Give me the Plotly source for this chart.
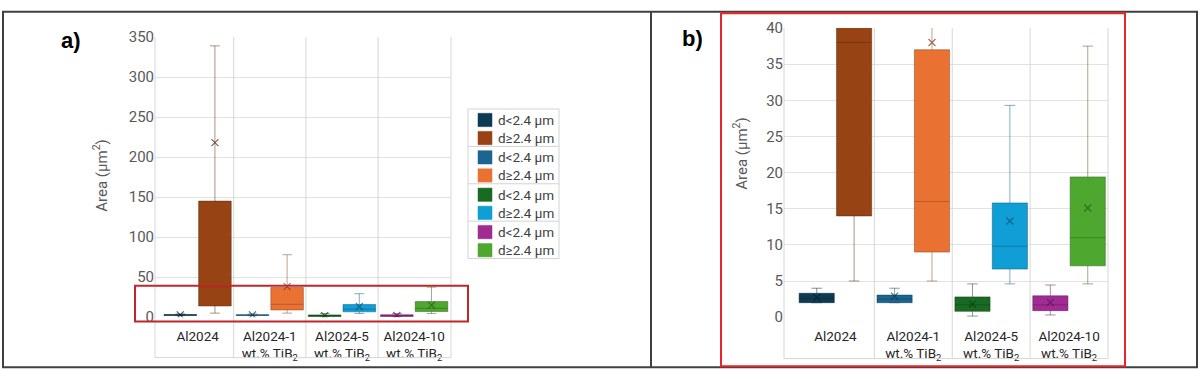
import plotly.graph_objects as go

# ---------------- data ----------------
categories = ["Al2024", "Al2024-1<br>wt.% TiB<sub>2</sub>",
              "Al2024-5<br>wt.% TiB<sub>2</sub>", "Al2024-10<br>wt.% TiB<sub>2</sub>"]

# d < 2.4 µm
q1_small = [2.0, 2.0, 0.8, 0.9]
median_small = [2.6, 2.5, 1.7, 1.7]
q3_small = [3.3, 3.05, 2.8, 2.95]
low_small = [2.0, 2.0, 0.15, 0.3]
high_small = [4.0, 4.0, 4.6, 4.45]
mean_small = [2.7, 2.9, 1.8, 2.05]

# d >= 2.4 µm
q1_large = [14.0, 9.0, 6.65, 7.1]
median_large = [38.0, 16.0, 9.8, 11.0]
q3_large = [145.0, 37.0, 15.8, 19.4]
low_large = [5.0, 5.0, 4.6, 4.6]
high_large = [339.0, 78.0, 29.3, 37.5]
mean_large = [218.0, 38.0, 13.3, 15.1]

small_colors = ["#0e3b54", "#1a6690", "#196b24", "#a02b93"]
large_colors = ["#984314", "#e97132", "#0f9ed5", "#4ea72e"]
legend_labels = ["d&lt;2.4 µm", "d≥2.4 µm"]

W, H = 1200, 379


def px(x):
    return x / W


def py(y):
    return 1 - y / H


def dark(hexc, f=0.6, a=0.5):
    r, g, b = int(hexc[1:3], 16), int(hexc[3:5], 16), int(hexc[5:7], 16)
    return f"rgba({int(r*f)},{int(g*f)},{int(b*f)},{a})"


fig = go.Figure()

panels = [("x", "y"), ("x2", "y2")]
for xa, ya in panels:
    for i, cat in enumerate(categories):
        for grp, (q1, med, q3, lo, hi, mn, cols) in enumerate([
                (q1_small, median_small, q3_small, low_small, high_small, mean_small, small_colors),
                (q1_large, median_large, q3_large, low_large, high_large, mean_large, large_colors)]):
            og = "lo" if grp == 0 else "hi"
            fig.add_trace(go.Box(
                x=[cat], q1=[q1[i]], median=[med[i]], q3=[q3[i]],
                lowerfence=[lo[i]], upperfence=[hi[i]],
                fillcolor=cols[i], line=dict(color=dark(cols[i]), width=1),
                whiskerwidth=0.3, boxpoints=False, showlegend=False,
                offsetgroup=og, alignmentgroup="g" + xa,
                xaxis=xa, yaxis=ya, hoverinfo="skip"))
            fig.add_trace(go.Scatter(
                x=[cat], y=[mn[i]], mode="markers",
                marker=dict(symbol="x-thin", size=7, color=dark(cols[i], 0.55, 0.75),
                            line=dict(width=1.1, color=dark(cols[i], 0.55, 0.75))),
                offsetgroup=og, alignmentgroup="g" + xa,
                xaxis=xa, yaxis=ya, showlegend=False, hoverinfo="skip"))

grid = "#e2e2e2"
tickfont = dict(family="Roboto", size=15, color="#595959")
catfont = dict(family="Roboto", size=13.5, color="#262626")

# panel geometry (pixels)
A = dict(l=155, r=451, t=29.5, b=323.5, lab=366)
B = dict(l=784, r=1108, t=20, b=323.5, lab=367)

fig.update_layout(
    width=W, height=H, margin=dict(l=0, r=0, t=0, b=0),
    paper_bgcolor="white", plot_bgcolor="white",
    boxmode="group", boxgap=0.04, boxgroupgap=0.06,
    scattermode="group", scattergap=0.04,
    xaxis=dict(domain=[px(A["l"]), px(A["r"])], anchor="y", type="category",
               categoryorder="array", categoryarray=categories,
               range=[-0.59, 3.51], showgrid=False, ticks="", tickfont=catfont,
               ticklabelstandoff=9, showline=False, zeroline=False),
    yaxis=dict(domain=[py(A["b"]), py(A["t"])], anchor="x", range=[0, 350], dtick=50,
               showgrid=True, gridcolor=grid, zeroline=False, showline=False,
               tickfont=tickfont, ticks=""),
    xaxis2=dict(domain=[px(B["l"]), px(B["r"])], anchor="y2", type="category",
                categoryorder="array", categoryarray=categories,
                range=[-0.66, 3.5], showgrid=False, ticks="", tickfont=catfont,
                ticklabelstandoff=9, showline=False, zeroline=False),
    yaxis2=dict(domain=[py(B["b"]), py(B["t"])], anchor="x2", range=[0, 40], dtick=5,
                showgrid=True, gridcolor=grid, zeroline=False, showline=False,
                tickfont=tickfont, ticks=""),
)

shapes = []
sep = "#d6d6d6"
for xa, P in [("x", A), ("x2", B)]:
    for b in [0.5, 1.5, 2.5]:
        shapes.append(dict(type="line", xref=xa, yref="paper", x0=b, x1=b,
                           y0=py(P["lab"]), y1=py(P["t"]), line=dict(color=sep, width=1)))
    for e in [0, 1]:
        shapes.append(dict(type="line", xref=xa + " domain", yref="paper", x0=e, x1=e,
                           y0=py(P["lab"]), y1=py(P["t"]), line=dict(color=sep, width=1)))
    shapes.append(dict(type="line", xref=xa + " domain", yref="paper", x0=0, x1=1,
                       y0=py(P["lab"]), y1=py(P["lab"]), line=dict(color=sep, width=1)))

# outer frame and divider
shapes.append(dict(type="rect", xref="paper", yref="paper", x0=px(3), x1=px(1197),
                   y0=py(376), y1=py(3), line=dict(color="#404040", width=2)))
shapes.append(dict(type="line", xref="paper", yref="paper", x0=px(651), x1=px(651),
                   y0=py(376), y1=py(3), line=dict(color="#404040", width=2)))
# red frame panel b
shapes.append(dict(type="rect", xref="paper", yref="paper", x0=px(721), x1=px(1125),
                   y0=py(375), y1=py(4.5), line=dict(color="#e8262a", width=2)))
# red zoom box in panel a
shapes.append(dict(type="rect", xref="paper", yref="paper", x0=px(135), x1=px(468),
                   y0=py(328), y1=py(290.5), line=dict(color="#c0272d", width=2)))

# legend (panel a)
LG = dict(l=468, r=559, t=105, b=262)
shapes.append(dict(type="rect", xref="paper", yref="paper", x0=px(LG["l"]), x1=px(LG["r"]),
                   y0=py(LG["b"]), y1=py(LG["t"]), line=dict(color="#d3d3d3", width=1),
                   fillcolor="white", layer="below"))
gh = (LG["b"] - LG["t"]) / 4
annotations = []
for g in range(4):
    if g > 0:
        yy = LG["t"] + g * gh
        shapes.append(dict(type="line", xref="paper", yref="paper", x0=px(LG["l"]),
                           x1=px(LG["r"]), y0=py(yy), y1=py(yy),
                           line=dict(color="#d3d3d3", width=1)))
    for r, cols in enumerate([small_colors, large_colors]):
        yc = LG["t"] + g * gh + 11.5 + r * 19
        shapes.append(dict(type="rect", xref="paper", yref="paper", x0=px(478), x1=px(492),
                           y0=py(yc + 7), y1=py(yc - 7), fillcolor=cols[g],
                           line=dict(color=cols[g], width=0.5)))
        annotations.append(dict(xref="paper", yref="paper", x=px(496), y=py(yc),
                                xanchor="left", yanchor="middle", showarrow=False,
                                text=legend_labels[r],
                                font=dict(family="Roboto", size=13.5, color="#404040")))

# axis titles
for xx, yy in [(100, 175), (740, 152)]:
    annotations.append(dict(xref="paper", yref="paper", x=px(xx), y=py(yy),
                            text="Area (µm<sup>2</sup>)", textangle=-90, showarrow=False,
                            xanchor="center", yanchor="middle",
                            font=dict(family="Roboto", size=15, color="#595959")))
# panel labels
for xx, yy, t in [(71, 33, "a)"), (692, 31, "b)")]:
    annotations.append(dict(xref="paper", yref="paper", x=px(xx), y=py(yy),
                            text=f"<b>{t}</b>", showarrow=False, xanchor="center",
                            yanchor="middle",
                            font=dict(family="Liberation Sans", size=22, color="black")))

fig.update_layout(shapes=shapes, annotations=annotations)
fig.write_html("out.html", config={"displayModeBar": False},
               post_script="document.body.style.margin='0';document.body.style.overflow='hidden';")
